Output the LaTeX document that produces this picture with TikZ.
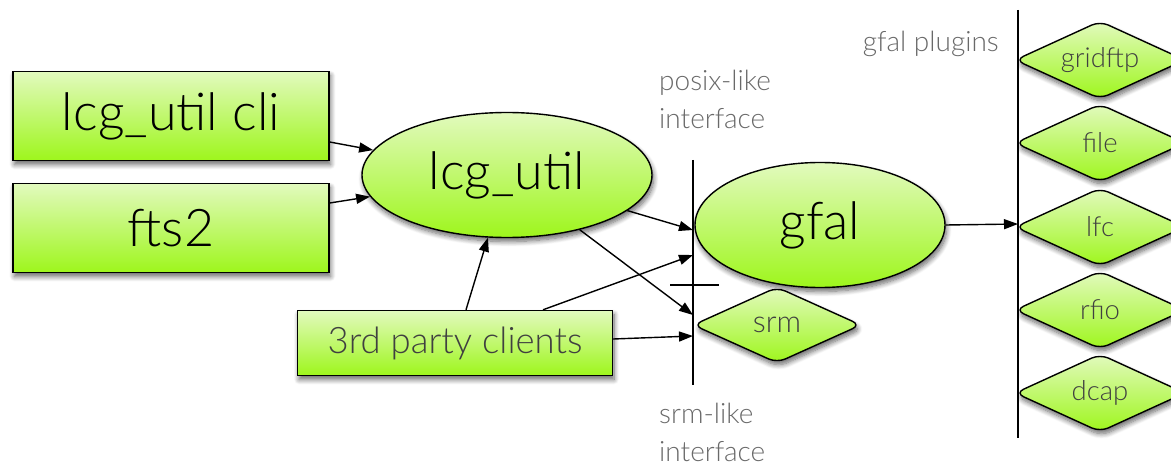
\documentclass[tikz,border=0pt]{standalone}
\usepackage{fontspec}
\setmainfont{Lato}[UprightFont=* Light]
\usetikzlibrary{shapes.geometric, arrows.meta, shadows.blur}
\definecolor{boxtop}{RGB}{226, 250, 190}
\definecolor{boxbottom}{RGB}{158, 246, 28}
\definecolor{labelgray}{RGB}{105, 105, 105}

\begin{document}
\begin{tikzpicture}[x=1pt, y=-1pt,
		comp/.style={draw, line width=1.4pt, top color=boxtop, bottom color=boxbottom, blur shadow={shadow xshift=1.5pt, shadow yshift=-4pt, shadow blur radius=5pt, shadow blur steps=8, shadow opacity=60}},
		box/.style={comp, minimum width=316pt, minimum height=89pt, inner sep=0pt, font=\fontsize{52}{52}\selectfont},
		lib/.style={comp, ellipse, minimum height=125pt, inner sep=0pt, font=\fontsize{52}{52}\selectfont},
		plugin/.style={comp, diamond, aspect=2.4, rounded corners=9pt, minimum width=170pt, minimum height=78pt, inner sep=0pt, text=black!75, font=\fontsize{27.5}{27.5}\selectfont},
		lbl/.style={text=labelgray, align=left, inner sep=0pt, font=\fontsize{28}{38}\selectfont},
		arr/.style={line width=1.4pt, -{Triangle[length=14pt, width=10pt]}}
		]
		\useasboundingbox (0,0) rectangle (1171,468);
		
		\node[box] (cli) at (171,116) {lcg\_util cli};
		\node[box] (fts) at (171,228) {fts2};
		\node[box, minimum width=315pt, minimum height=65pt, text=black!75, font=\fontsize{36.5}{36.5}\selectfont] (third) at (455,343) {3rd party clients};
		\node[lib, minimum width=290pt] (lcg) at (507,175) {lcg\_util};
		\node[lib, minimum width=250pt] (gfal) at (820,225) {gfal};
		\node[plugin, minimum width=168pt, minimum height=76pt, font=\fontsize{30.5}{30.5}\selectfont] (srm) at (777,325) {srm};
		
		% plugin column
		\foreach \p/\y in {gridftp/60, file/143, lfc/227, rfio/310, dcap/393}{
			\node[plugin] (\p) at (1100,\y) {\p};
		}
		
		% interfaces
		\coordinate (ifTop) at (693,160);
		\coordinate (ifBot) at (693,385);
		\coordinate (sepL) at (670,285);
		\coordinate (sepR) at (719,285);
		\coordinate (plTop) at (1018,10);
		\coordinate (plBot) at (1018,438);
		\draw[line width=1.4pt] (ifTop) -- (ifBot);
		\draw[line width=1.4pt] (sepL) -- (sepR);
		\draw[line width=1.4pt] (plTop) -- (plBot);
		
		\node[lbl, anchor=west] (posix) at (659,99) {posix-like\\interface};
		\node[lbl, anchor=west] (srmlike) at (659,432) {srm-like\\interface};
		\node[lbl, anchor=east] (plugins) at (999,44) {gfal plugins};
		
		% calls
		\coordinate (in1) at (693,230);
		\coordinate (in2) at (693,255);
		\coordinate (in3) at (693,315);
		\coordinate (in4) at (693,336);
		\coordinate (in5) at (1018,224);
		\draw[arr] ([yshift=-26pt]cli.east) -- (lcg);
		\draw[arr] ([yshift=25pt]fts.east) -- (lcg);
		\draw[arr] ([xshift=11pt]third.north) -- (lcg);
		\draw[arr] ([xshift=88pt]third.north) -- (in2);
		\draw[arr] ([yshift=4pt]third.east) -- (in4);
		\draw[arr] (lcg) -- (in1);
		\draw[arr] (lcg) -- (in3);
		\draw[arr] (gfal.east) -- (in5);
		
	\end{tikzpicture}
\end{document}
